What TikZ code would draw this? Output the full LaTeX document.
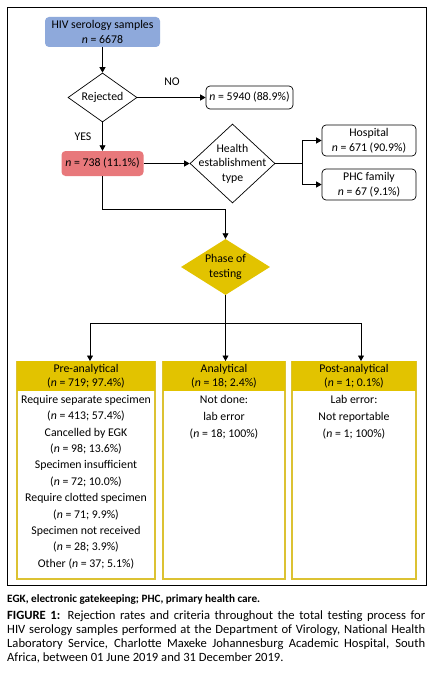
\documentclass[tikz,border=0pt]{standalone}
\usepackage{fontspec}
\setmainfont{Carlito}
\usetikzlibrary{shapes.geometric,arrows.meta}
\definecolor{hivblue}{HTML}{8EA9DB}
\definecolor{hivred}{HTML}{E8787B}
\definecolor{hivyel}{HTML}{E2C300}
\definecolor{hivyelb}{HTML}{DCC232}
\begin{document}
\begin{tikzpicture}[x=1pt,y=-1pt,
  every node/.style={font=\fontsize{11.8}{14.5}\selectfont, inner sep=0pt},
  rbox/.style={rectangle, rounded corners=4pt, align=center},
  wbox/.style={rbox, draw=black, line width=0.7pt, fill=white},
  dia/.style={diamond, inner sep=0pt},
  arr/.style={line width=0.8pt, -{Triangle[width=6pt,length=5.5pt]}},
  ln/.style={line width=0.8pt},
  head/.style={rectangle, fill=hivyel, align=center},
  body/.style={rectangle, draw=hivyelb, line width=2pt},
  bodytext/.style={align=center, font=\fontsize{11.8}{16.4}\selectfont}
]
\useasboundingbox (0,0) rectangle (444,674);
\fill[white] (0,0) rectangle (444,674);
\draw[line width=1pt] (7,8) rectangle (426,585);

% top part
\node[rbox, fill=hivblue, minimum width=115, minimum height=30] (s) at (102.5,32) {HIV serology samples\\\textit{n} = 6678};
\node[dia, draw=black, line width=0.7pt, minimum width=69, minimum height=49, label=center:{Rejected}] (rej) at (102.5,97.5) {};
\node[wbox, minimum width=87, minimum height=23] (no) at (249.5,97.5) {\textit{n} = 5940 (88.9\%)};
\node (nolbl) at (172,82) {NO};
\node (yeslbl) at (83,137) {YES};
\node[rbox, fill=hivred, minimum width=82, minimum height=25] (red) at (102.5,163.5) {\textit{n} = 738 (11.1\%)};
\node[dia, draw=black, line width=0.7pt, minimum width=85, minimum height=79, label={[align=center, font=\fontsize{11.8}{14.5}\selectfont]center:{Health\\establishment\\type}}] (hea) at (232.5,163.5) {};
\node[wbox, minimum width=94, minimum height=31] (hosp) at (369,140.5) {Hospital\\\textit{n} = 671 (90.9\%)};
\node[wbox, minimum width=94, minimum height=31] (phc) at (369,184.5) {PHC family\\\textit{n} = 67 (9.1\%)};
\coordinate (j) at (302,163.5);
\coordinate (bend) at (225.5,209);
\node[dia, fill=hivyel, minimum width=89, minimum height=56, label={[align=center, font=\fontsize{11.8}{14.5}\selectfont]center:{Phase of\\testing}}] (ph) at (225.5,267) {};
\coordinate (t) at (225.5,323);

\draw[arr] (s) -- (rej.north);
\draw[arr] (rej.east) -- (no.west);
\draw[arr] (rej.south) -- (red.north);
\draw[arr] (red.east) -- (hea.west);
\draw[ln] (hea.east) -- (j);
\draw[arr] (j) |- (hosp.west);
\draw[arr] (j) |- (phc.west);
\draw[arr] (red.south) |- (bend) -- (ph.north);
\draw[ln] (ph.south) -- (t);

% bottom boxes
\node[body, minimum width=138, minimum height=217, anchor=north] (preb) at (86,361) {};
\node[body, minimum width=122, minimum height=217, anchor=north] (anab) at (224,361) {};
\node[body, minimum width=124, minimum height=217, anchor=north] (postb) at (354,361) {};
\node[head, minimum width=138, minimum height=30, anchor=north] (pre) at (86,361) {Pre-analytical\\(\textit{n} = 719; 97.4\%)};
\node[head, minimum width=122, minimum height=30, anchor=north] (ana) at (224,361) {Analytical\\(\textit{n} = 18; 2.4\%)};
\node[head, minimum width=124, minimum height=30, anchor=north] (post) at (354,361) {Post-analytical\\(\textit{n} = 1; 0.1\%)};

\node[bodytext, anchor=north] (pret) at (86,395) {Require separate specimen\\(\textit{n} = 413; 57.4\%)\\Cancelled by EGK\\(\textit{n} = 98; 13.6\%)\\Specimen insufficient\\(\textit{n} = 72; 10.0\%)\\Require clotted specimen\\(\textit{n} = 71; 9.9\%)\\Specimen not received\\(\textit{n} = 28; 3.9\%)\\Other (\textit{n} = 37; 5.1\%)};
\node[bodytext, anchor=north, font=\fontsize{11.8}{17}\selectfont] (anat) at (224,395) {Not done:\\lab error\\(\textit{n} = 18; 100\%)};
\node[bodytext, anchor=north, font=\fontsize{11.8}{17}\selectfont] (postt) at (354,395) {Lab error:\\Not reportable\\(\textit{n} = 1; 100\%)};

\draw[ln] (t) -- (t -| 90,0);
\draw[arr] (t) -| ([xshift=4pt]pre.north);
\draw[arr] (t) -- (ana.north -| t);
\draw[arr] (t) -| ([xshift=7pt]post.north);

% captions
\node[anchor=west, font=\fontsize{11.2}{12}\selectfont\bfseries] (note) at (7,600) {EGK, electronic gatekeeping; PHC, primary health care.};
\node[anchor=north west, text width=418, align=justify, font=\fontsize{12.6}{13.7}\selectfont] (cap) at (7,611) {\emergencystretch=20pt\hyphenpenalty=10000 \textbf{FIGURE 1:} Rejection rates and criteria throughout the total testing process for\linebreak HIV serology samples performed at the Department of Virology, National Health\linebreak Laboratory Service, Charlotte Maxeke Johannesburg Academic Hospital, South\linebreak Africa, between 01 June 2019 and 31 December 2019.};
\end{tikzpicture}
\end{document}
